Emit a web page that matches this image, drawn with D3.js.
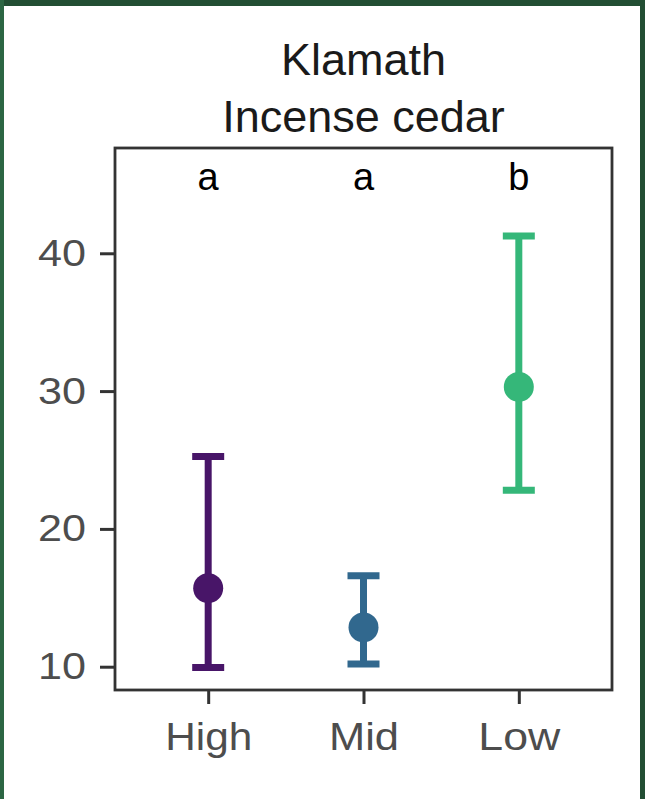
<!DOCTYPE html>
<html>
<head>
<meta charset="utf-8">
<script src="https://cdn.jsdelivr.net/npm/d3@7"></script>
<style>
  html, body { margin: 0; padding: 0; background: #ffffff; }
  svg { display: block; }
  text { font-family: "Liberation Sans", Arial, sans-serif; }
</style>
</head>
<body>
<script>
// Klamath, Incense cedar: group means with interval bars and significance letters
const categories = ["High", "Mid", "Low"];
const means = [15.7, 12.85, 30.3];
const lower = [9.95, 10.2, 22.8];
const upper = [25.25, 16.6, 41.25];
const letters = ["a", "a", "b"];
const colors = ["#481568", "#31688E", "#35B779"];
const yTicks = [10, 20, 30, 40];
const titleLines = ["Klamath", "Incense cedar"];

const W = 645, H = 799;
const panel = { left: 115, right: 612, top: 148, bottom: 690 };

const svg = d3.select("body").append("svg")
  .attr("width", W).attr("height", H);

// frame around the figure
svg.append("rect").attr("x", 0).attr("y", 0).attr("width", W).attr("height", H).attr("fill", "#ffffff");
svg.append("rect").attr("x", 0).attr("y", 0).attr("width", W).attr("height", 6).attr("fill", "#224e33");
svg.append("rect").attr("x", 0).attr("y", 0).attr("width", 4).attr("height", H).attr("fill", "#2c6643");
svg.append("rect").attr("x", W - 5).attr("y", 0).attr("width", 5).attr("height", H).attr("fill", "#224e33");

const x = d3.scalePoint().domain(categories).range([panel.left, panel.right]).padding(0.6);
const y = d3.scaleLinear().domain([8.31, 47.64]).range([panel.bottom, panel.top]);

const rows = categories.map((c, i) => ({
  cat: c, mean: means[i], lo: lower[i], hi: upper[i], letter: letters[i], color: colors[i]
}));

// title
svg.selectAll("text.title").data(titleLines).join("text")
  .attr("class", "title")
  .attr("x", (panel.left + panel.right) / 2)
  .attr("y", (d, i) => 75 + i * 57)
  .attr("text-anchor", "middle")
  .attr("font-size", 45)
  .attr("fill", "#1a1a1a")
  .text(d => d);

// y axis
const yAxis = svg.append("g").attr("transform", `translate(${panel.left},0)`)
  .call(d3.axisLeft(y).tickValues(yTicks).tickSize(15).tickPadding(14));
yAxis.select(".domain").remove();
yAxis.selectAll(".tick line").attr("stroke", "#333333").attr("stroke-width", 3);
yAxis.selectAll(".tick text")
  .attr("font-size", 37).attr("fill", "#4d4d4d")
  .attr("dy", null).attr("y", 12)
  .attr("textLength", 48).attr("lengthAdjust", "spacingAndGlyphs");

// x axis
const xAxis = svg.append("g").attr("transform", `translate(0,${panel.bottom})`)
  .call(d3.axisBottom(x).tickSize(14).tickPadding(0));
xAxis.select(".domain").remove();
xAxis.selectAll(".tick line").attr("stroke", "#333333").attr("stroke-width", 3);
const xLabelWidths = { High: 87, Mid: 70, Low: 82 };
xAxis.selectAll(".tick text")
  .attr("font-size", 38).attr("fill", "#4d4d4d")
  .attr("dy", null).attr("y", 60)
  .attr("textLength", d => xLabelWidths[d]).attr("lengthAdjust", "spacingAndGlyphs");

// panel border
svg.append("rect")
  .attr("x", panel.left).attr("y", panel.top)
  .attr("width", panel.right - panel.left).attr("height", panel.bottom - panel.top)
  .attr("fill", "none").attr("stroke", "#333333").attr("stroke-width", 2.8);

// interval bars
const capHalf = 16;
const bars = svg.append("g").selectAll("g").data(rows).join("g");
bars.append("line")
  .attr("x1", d => x(d.cat)).attr("x2", d => x(d.cat))
  .attr("y1", d => y(d.lo)).attr("y2", d => y(d.hi))
  .attr("stroke", d => d.color).attr("stroke-width", 7);
bars.append("line")
  .attr("x1", d => x(d.cat) - capHalf).attr("x2", d => x(d.cat) + capHalf)
  .attr("y1", d => y(d.hi)).attr("y2", d => y(d.hi))
  .attr("stroke", d => d.color).attr("stroke-width", 7);
bars.append("line")
  .attr("x1", d => x(d.cat) - capHalf).attr("x2", d => x(d.cat) + capHalf)
  .attr("y1", d => y(d.lo)).attr("y2", d => y(d.lo))
  .attr("stroke", d => d.color).attr("stroke-width", 7);
bars.append("circle")
  .attr("cx", d => x(d.cat)).attr("cy", d => y(d.mean)).attr("r", 15)
  .attr("fill", d => d.color);

// significance letters
svg.selectAll("text.sig").data(rows).join("text")
  .attr("class", "sig")
  .attr("x", d => x(d.cat))
  .attr("y", 190)
  .attr("text-anchor", "middle")
  .attr("font-size", 38)
  .attr("fill", "#000000")
  .text(d => d.letter);
</script>
</body>
</html>
